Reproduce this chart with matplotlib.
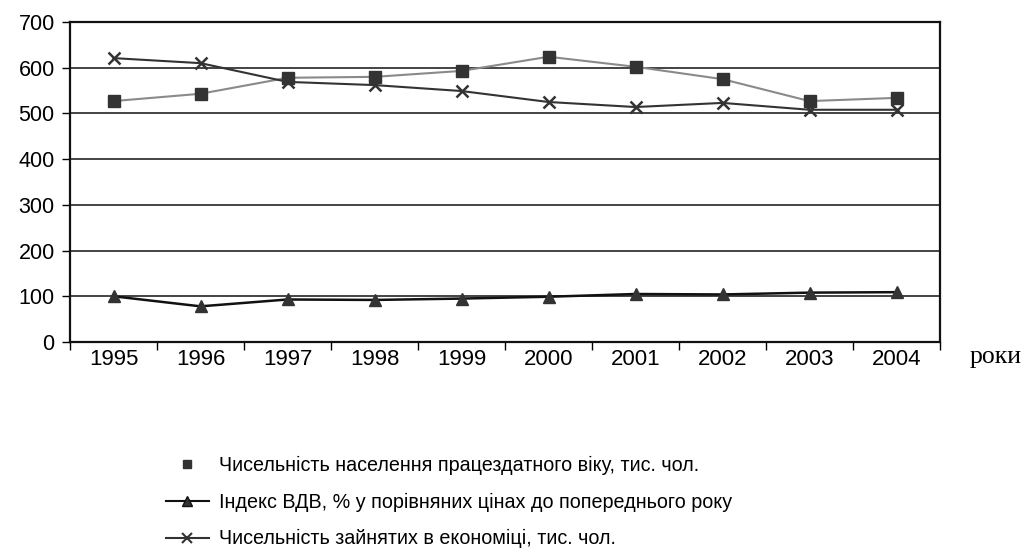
import matplotlib
matplotlib.use("Agg")
import matplotlib.pyplot as plt
from matplotlib.lines import Line2D
import numpy as np

years = ["1995", "1996", "1997", "1998", "1999", "2000", "2001", "2002", "2003", "2004"]
working_age = [527, 543, 578, 580, 593, 624, 602, 575, 527, 534]
gdp_index = [100, 78, 93, 92, 95, 99, 105, 104, 108, 109]
employed = [621, 610, 569, 562, 549, 525, 514, 523, 508, 508]
y_ticks = [0, 100, 200, 300, 400, 500, 600, 700]
labels = ["Чисельність населення працездатного віку, тис. чол.",
          "Індекс ВДВ, % у порівняних цінах до попереднього року",
          "Чисельність зайнятих в економіці, тис. чол."]

plt.rcParams['font.family'] = ['Liberation Sans', 'DejaVu Sans']

fig = plt.figure(figsize=(10.34, 5.58), dpi=100)
ax = fig.add_axes([70/1034, 1-342/558, (940-70)/1034, (342-22)/558])

x = np.arange(len(years))
ax.plot(x, working_age, color='#8a8a8a', lw=1.5, marker='s', ms=8,
        mfc='#333333', mec='#333333', zorder=3)
ax.plot(x, gdp_index, color='#111111', lw=1.8, marker='^', ms=8,
        mfc='#333333', mec='#333333', zorder=3)
ax.plot(x, employed, color='#333333', lw=1.5, marker='x', ms=9, mew=1.8,
        mec='#333333', zorder=3)

ax.set_xlim(-0.5, len(years) - 0.5)
ax.set_ylim(0, 700)
ax.set_yticks(y_ticks)
ax.set_yticklabels([str(v) for v in y_ticks], fontsize=15.5)
ax.set_xticks(x)
ax.set_xticklabels(years, fontsize=16)
ax.tick_params(axis='x', length=0, pad=5)
ax.set_xticks(np.arange(-0.5, len(years)), minor=True)
ax.tick_params(axis='x', which='minor', length=6, width=1, direction='out')
ax.tick_params(axis='y', length=6, width=1, direction='out', pad=5)
ax.grid(axis='y', color='#111111', lw=1.1)
ax.set_axisbelow(True)
for s in ['left', 'bottom', 'right', 'top']:
    ax.spines[s].set_color('#111111')
    ax.spines[s].set_linewidth(1.6)

fig.text(970/1034, 1-357/558, "роки", fontsize=18.5, family='Liberation Serif',
         ha='left', va='center')

handles = [Line2D([], [], color='#333333', marker='s', ms=6, ls='none'),
           Line2D([], [], color='#111111', marker='^', ms=7, lw=1.5, mfc='#333333'),
           Line2D([], [], color='#333333', marker='x', ms=7, lw=1.5, mew=1.5)]
fig.legend(handles, labels, loc='upper left', bbox_to_anchor=(148/1034, 1-438/558),
           frameon=False, fontsize=14.2, handlelength=2.2, handletextpad=0.5,
           labelspacing=0.9)

fig.savefig("out.png", dpi=100, facecolor='white')
